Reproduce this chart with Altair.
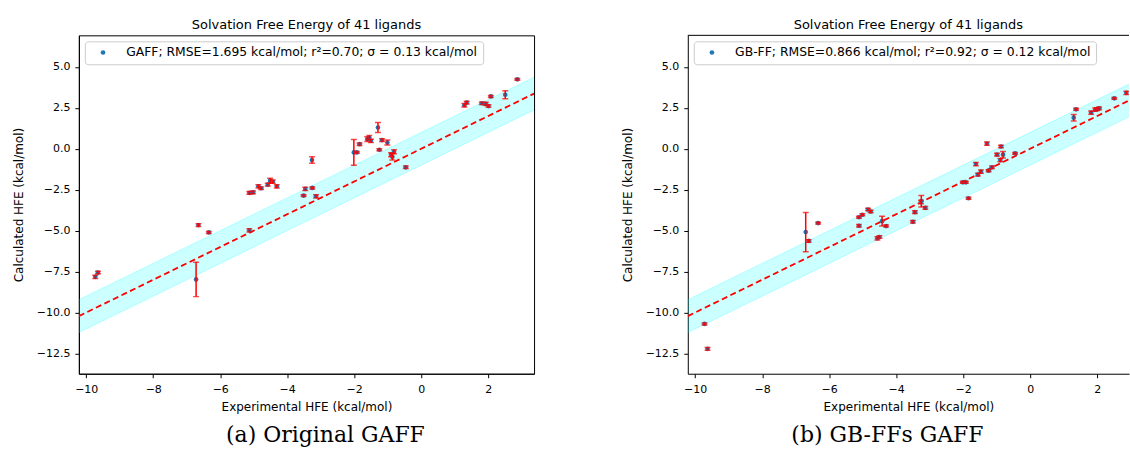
import altair as alt
import pandas as pd

# ---------------- data ----------------
title_text = "Solvation Free Energy of 41 ligands"
x_title = "Experimental HFE (kcal/mol)"
y_title = "Calculated HFE (kcal/mol)"

x_lim_left = [-10.22, 3.37]
x_lim_right = [-10.22, 2.95]   # right panel is cut by the page edge
y_lim = [-13.74, 6.93]
x_ticks = [-10, -8, -6, -4, -2, 0, 2]
y_ticks = [5.0, 2.5, 0.0, -2.5, -5.0, -7.5, -10.0, -12.5]
band_halfwidth = 1.0

gaff_label = "GAFF; RMSE=1.695 kcal/mol; r²=0.70; σ = 0.13 kcal/mol"
gaff_caption = "(a) Original GAFF"
gaff_exp = [-9.73, -9.65, -6.72, -6.65, -6.34, -5.13, -5.13, -5.02, -4.86, -4.78,
            -4.58, -4.51, -4.43, -4.31, -3.51, -3.46, -3.26, -3.25, -3.14, -2.01,
            -1.92, -1.84, -1.61, -1.55, -1.50, -1.29, -1.25, -1.17, -1.01, -0.90,
            -0.86, -0.81, -0.46, 1.29, 1.36, 1.81, 1.93, 2.01, 2.08, 2.51, 2.87]
gaff_calc = [-7.82, -7.56, -7.98, -4.66, -5.11, -4.98, -2.69, -2.66, -2.29, -2.41,
             -2.19, -1.95, -2.01, -2.29, -2.86, -2.45, -0.69, -2.39, -2.90, -0.22,
             -0.22, 0.28, 0.59, 0.69, 0.49, 1.30, -0.06, 0.53, 0.38, -0.36,
             -0.49, -0.18, -1.13, 2.66, 2.82, 2.78, 2.74, 2.61, 3.20, 3.30, 4.24]
gaff_err = [0.10, 0.08, 1.05, 0.08, 0.06, 0.10, 0.08, 0.08, 0.10, 0.08,
            0.08, 0.15, 0.10, 0.10, 0.06, 0.10, 0.20, 0.06, 0.10, 0.78,
            0.06, 0.08, 0.15, 0.12, 0.10, 0.30, 0.06, 0.08, 0.15, 0.12,
            0.20, 0.12, 0.08, 0.10, 0.08, 0.08, 0.10, 0.08, 0.06, 0.25, 0.06]

gbff_label = "GB-FF; RMSE=0.866 kcal/mol; r²=0.92; σ = 0.12 kcal/mol"
gbff_caption = "(b) GB-FFs GAFF"
gbff_exp = [-9.72, -9.63, -6.70, -6.61, -6.33, -5.11, -5.11, -5.01, -4.84, -4.76,
            -4.56, -4.50, -4.42, -4.30, -3.50, -3.44, -3.26, -3.25, -3.13, -2.01,
            -1.92, -1.84, -1.62, -1.56, -1.47, -1.29, -1.24, -1.14, -0.99, -0.89,
            -0.87, -0.81, -0.45, 1.30, 1.37, 1.82, 1.94, 2.00, 2.06, 2.51, 2.87]
gbff_calc = [-10.70, -12.22, -5.09, -5.63, -4.54, -4.18, -4.70, -4.03, -3.71, -3.83,
             -5.47, -5.39, -4.42, -4.72, -4.46, -3.87, -3.25, -3.20, -3.61, -2.05,
             -2.05, -3.02, -0.93, -1.58, -1.40, 0.32, -1.34, -1.13, -0.36, -0.69,
             0.14, -0.36, -0.28, 1.90, 2.41, 2.21, 2.39, 2.42, 2.47, 3.08, 3.42]
gbff_err = [0.06, 0.08, 1.20, 0.08, 0.06, 0.06, 0.08, 0.06, 0.08, 0.08,
            0.10, 0.08, 0.30, 0.06, 0.08, 0.08, 0.10, 0.35, 0.08, 0.06,
            0.06, 0.06, 0.10, 0.08, 0.10, 0.10, 0.06, 0.08, 0.08, 0.10,
            0.08, 0.20, 0.06, 0.20, 0.06, 0.10, 0.10, 0.08, 0.08, 0.06, 0.10]

# ---------------- styling ----------------
W_LEFT, W_RIGHT, H = 456, 442, 339
FONT = "DejaVu Sans"
BLUE = "#1f77b4"


def panel(exp, calc, err, label, caption, cap_x, x_lim, width, open_right):
    df = pd.DataFrame({"exp": exp, "calc": calc, "err": err})
    df["lo"] = df["calc"] - df["err"]
    df["hi"] = df["calc"] + df["err"]
    df["series"] = label

    band_df = pd.DataFrame({"x": x_lim})
    band_df["y"] = band_df["x"]
    band_df["lo"] = band_df["x"] - band_halfwidth
    band_df["hi"] = band_df["x"] + band_halfwidth

    xs = alt.Scale(domain=x_lim, nice=False, zero=False)
    ys = alt.Scale(domain=y_lim, nice=False, zero=False)
    xax = alt.Axis(values=x_ticks, format="d", title=x_title, labelPadding=6, titlePadding=7)
    yax = alt.Axis(values=y_ticks, format=".1f", title=y_title, labelPadding=5, titlePadding=11)

    base_band = alt.Chart(band_df)
    band = base_band.mark_area(color="cyan", opacity=0.2, clip=True).encode(
        x=alt.X("x:Q", scale=xs, axis=xax), y=alt.Y("lo:Q", scale=ys, axis=yax), y2="hi:Q")
    edge_lo = base_band.mark_line(color="cyan", opacity=0.25, strokeWidth=1, clip=True).encode(
        x=alt.X("x:Q", scale=xs), y=alt.Y("lo:Q", scale=ys))
    edge_hi = base_band.mark_line(color="cyan", opacity=0.25, strokeWidth=1, clip=True).encode(
        x=alt.X("x:Q", scale=xs), y=alt.Y("hi:Q", scale=ys))
    diag = base_band.mark_line(color="red", strokeDash=[6, 3.5], strokeWidth=1.8, clip=True).encode(
        x=alt.X("x:Q", scale=xs), y=alt.Y("y:Q", scale=ys))

    base = alt.Chart(df)
    pts = base.mark_circle(size=22, opacity=1, clip=True).encode(
        x=alt.X("exp:Q", scale=xs),
        y=alt.Y("calc:Q", scale=ys),
        color=alt.Color("series:N", scale=alt.Scale(range=[BLUE]),
                        legend=alt.Legend(title=None, orient="top-left", offset=6,
                                          padding=5, symbolOffset=7, labelOffset=17,
                                          fillColor="rgba(255,255,255,0.8)",
                                          strokeColor="#cccccc", cornerRadius=3,
                                          symbolType="circle", symbolSize=22,
                                          symbolStrokeWidth=0, labelFont=FONT,
                                          labelFontSize=12.4, labelColor="black",
                                          labelLimit=1000)),
    )
    bars = base.mark_rule(color="red", strokeWidth=1.5, clip=True).encode(
        x=alt.X("exp:Q", scale=xs), y=alt.Y("lo:Q", scale=ys), y2="hi:Q")
    cap_lo = base.mark_tick(color="red", orient="horizontal", size=6, thickness=1.5, clip=True).encode(
        x=alt.X("exp:Q", scale=xs), y=alt.Y("lo:Q", scale=ys))
    cap_hi = base.mark_tick(color="red", orient="horizontal", size=6, thickness=1.5, clip=True).encode(
        x=alt.X("exp:Q", scale=xs), y=alt.Y("hi:Q", scale=ys))

    cap = alt.Chart(pd.DataFrame({"t": [caption]})).mark_text(
        font="DejaVu Serif", fontSize=22, align="center", baseline="alphabetic", color="black"
    ).encode(text="t:N", x=alt.value(cap_x), y=alt.value(407))

    layers = [band, edge_lo, edge_hi, diag, pts, bars, cap_lo, cap_hi, cap]
    props = dict(
        width=width, height=H,
        title=alt.TitleParams(title_text, font=FONT, fontSize=13, fontWeight="normal",
                              color="black", offset=3, anchor="middle"),
    )
    if open_right:
        top_rule = alt.Chart(pd.DataFrame({"t": [caption]})).mark_rule(
            color="black", strokeWidth=1).encode(x=alt.value(0), x2=alt.value(width), y=alt.value(0))
        layers.append(top_rule)
        props["view"] = alt.ViewBackground(stroke="transparent")
    return alt.layer(*layers).properties(**props)


left = panel(gaff_exp, gaff_calc, gaff_err, gaff_label, gaff_caption, 247,
             x_lim_left, W_LEFT, False)
right = panel(gbff_exp, gbff_calc, gbff_err, gbff_label, gbff_caption, 200,
              x_lim_right, W_RIGHT, True)

chart = alt.hconcat(left, right, spacing=85).resolve_scale(color="independent").resolve_legend(
    color="independent"
).properties(padding={"left": 11, "top": 18, "right": 0, "bottom": 0}).configure_view(
    stroke="black", strokeWidth=1
).configure_axis(
    grid=False, domainColor="black", tickColor="black", tickSize=4, labelFont=FONT,
    labelFontSize=11, labelColor="black", titleFont=FONT, titleFontSize=12,
    titleFontWeight="normal", titleColor="black",
)

chart.save("out.html", embed_options={"renderer": "svg", "actions": False})
